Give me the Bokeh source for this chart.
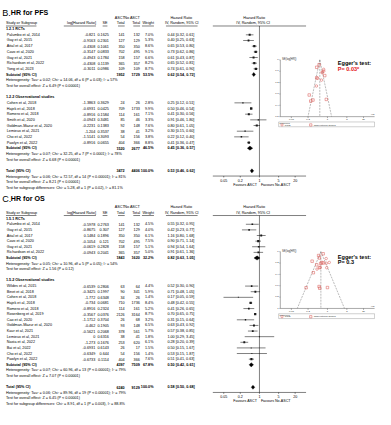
import math
from bokeh.plotting import figure
from bokeh.models import Range1d, LogScale, ColumnDataSource
from bokeh.embed import file_html
from bokeh.resources import INLINE
from bokeh.core.properties import value

# ---------------- Panel B: PFS ----------------
pfs_rct_study = ["Palumbo et al, 2014", "Gay et al, 2015", "Attal et al, 2017", "Cavo et al, 2020",
                 "Gay et al, 2021", "Richardson et al, 2022", "Yong et al, 2023"]
pfs_rct_loghr = [-0.821, -0.9163, -0.4308, -0.3147, -0.4943, -0.4308, -0.3011]
pfs_rct_se = [0.1625, 0.2301, 0.1061, 0.0833, 0.1784, 0.1139, 0.0986]
pfs_rct_n_asct = [141, 127, 350, 702, 158, 365, 109]
pfs_rct_n_no = [132, 129, 350, 495, 157, 357, 109]
pfs_rct_weight = [7.0, 5.3, 8.6, 9.1, 6.6, 8.2, 8.7]

pfs_obs_study = ["Cohen et al, 2018", "Hajek et al, 2018", "Romero et al, 2018", "Smith et al, 2020",
                 "Goldman-Mazur et al, 2020", "Lemieux et al, 2021", "Cho et al, 2022", "Pawlyn et al, 2022"]
pfs_obs_loghr = [-1.3863, -0.6931, -0.8916, -0.0943, -0.2231, -1.204, -1.5141, -0.8916]
pfs_obs_se = [0.3629, 0.0425, 0.1584, 0.3481, 0.1383, 0.3537, 0.3093, 0.0655]
pfs_obs_n_asct = [24, 709, 114, 85, 92, 38, 54, 404]
pfs_obs_n_no = [26, 1733, 161, 46, 148, 41, 156, 366]
pfs_obs_weight = [2.8, 9.9, 7.1, 3.3, 7.6, 3.2, 3.8, 8.8]

pfs_pooled = [[0.62, 0.54, 0.72], [0.45, 0.36, 0.57], [0.53, 0.46, 0.62]]   # RCT, Obs, Total
pfs_pooled_n = [[1952, 1729], [1520, 2677], [3472, 4406]]
pfs_pooled_w = [53.5, 46.5, 100.0]
pfs_stats = [
    "Heterogeneity: Tau² = 0.02; Chi² = 14.06, df = 6 (P = 0.03); I² = 57%",
    "Test for overall effect: Z = 6.49 (P < 0.00001)",
    "Heterogeneity: Tau² = 0.07; Chi² = 32.25, df = 7 (P < 0.0001); I² = 78%",
    "Test for overall effect: Z = 6.68 (P < 0.00001)",
    "Heterogeneity: Tau² = 0.06; Chi² = 72.57, df = 14 (P < 0.00001); I² = 81%",
    "Test for overall effect: Z = 8.21 (P < 0.00001)",
    "Test for subgroup differences: Chi² = 5.28, df = 1 (P = 0.02), I² = 81.1%",
]
pfs_egger = "P= 0.03*"

# ---------------- Panel C: OS ----------------
os_rct_study = ["Palumbo et al, 2014", "Gay et al, 2015", "Attal et al, 2017", "Cavo et al, 2020",
                "Gay et al, 2021", "Richardson et al, 2022"]
os_rct_loghr = [-0.5978, -0.8675, 0.1484, -0.1054, -0.0619, -0.0943]
os_rct_se = [0.2763, 0.307, 0.1896, 0.121, 0.2828, 0.2041]
os_rct_n_asct = [141, 127, 350, 702, 158, 365]
os_rct_n_no = [132, 129, 350, 495, 157, 357]
os_rct_weight = [4.5, 4.0, 6.1, 7.5, 5.1, 5.0]

os_obs_study = ["Wildes et al, 2015", "Binet et al, 2018", "Cohen et al, 2018", "Hajek et al, 2018",
                "Romero et al, 2018", "Rosenberg et al, 2019", "Cao et al, 2020", "Goldman-Mazur et al, 2020",
                "Kaur et al, 2021", "Lemieux et al, 2021", "Nasta et al, 2022", "Bai et al, 2022",
                "Cho et al, 2022", "Pawlyn et al, 2022"]
os_obs_loghr = [-0.6539, -0.3425, -1.772, -0.734, -0.8916, -0.3567, -1.1712, -0.462,
                -0.5621, 0.0, -1.273, -0.6931, -0.6349, -0.6733]
os_obs_se = [0.2806, 0.1997, 0.6348, 0.0681, 0.2324, 0.0376, 0.3704, 0.1905,
             0.2068, 0.6316, 0.1676, 0.6143, 0.644, 0.1114]
os_obs_n_asct = [63, 90, 34, 710, 114, 2126, 26, 93, 378, 38, 253, 26, 54, 404]
os_obs_n_no = [64, 341, 26, 1736, 161, 3164, 68, 148, 561, 41, 620, 17, 156, 366]
os_obs_weight = [4.4, 5.9, 1.4, 8.4, 5.2, 8.7, 3.2, 6.5, 5.7, 1.8, 6.1, 1.5, 1.4, 7.6]

os_pooled = [[0.82, 0.63, 1.05], [0.50, 0.42, 0.61], [0.58, 0.50, 0.68]]
os_pooled_n = [[1843, 1620], [4397, 7509], [6240, 9129]]
os_pooled_w = [32.2, 67.8, 100.0]
os_stats = [
    "Heterogeneity: Tau² = 0.05; Chi² = 10.96, df = 5 (P = 0.05); I² = 54%",
    "Test for overall effect: Z = 1.56 (P = 0.12)",
    "Heterogeneity: Tau² = 0.07; Chi² = 60.96, df = 13 (P < 0.00001); I² = 79%",
    "Test for overall effect: Z = 7.07 (P < 0.00001)",
    "Heterogeneity: Tau² = 0.06; Chi² = 89.96, df = 19 (P < 0.00001); I² = 79%",
    "Test for overall effect: Z = 6.45 (P < 0.00001)",
    "Test for subgroup differences: Chi² = 8.91, df = 1 (P = 0.003), I² = 88.8%",
]
os_egger = "P= 0.3"

forest_ticks = [0.05, 0.2, 1, 5, 20]
pfs_se_ticks = [0, 0.1, 0.2, 0.3, 0.4, 0.5]
os_se_ticks = [0, 0.2, 0.4, 0.6, 0.8, 1.0]

# ---------------- figure ----------------
W, H = 375, 409
RW, RH = 391.0, 425.0
K = W / RW
FONT = value("Liberation Sans")

p = figure(width=W, height=H, x_range=Range1d(0, RW), y_range=Range1d(RH, 0),
           output_backend="svg", toolbar_location=None, title=None,
           x_axis_location=None, y_axis_location=None, min_border=0)
p.outline_line_color = None
p.background_fill_color = "white"
p.border_fill_color = "white"
p.xgrid.visible = False
p.ygrid.visible = False

FX0, FS = 270.0, 20.0 / math.log(5)
GX0, GS = 340.9, 12.56
xr = {"hr": Range1d(start=math.exp(-FX0 / FS), end=math.exp((RW - FX0) / FS)),
      "fun": Range1d(start=math.exp(-GX0 / GS), end=math.exp((RW - GX0) / GS))}
xs = {"hr": LogScale(), "fun": LogScale()}
yr = {}

texts, segs = {}, {}


def txt(x, y, t, align="left", size=3.9, bold=False, color="black", base="middle",
        xn="default", yn="default"):
    d = texts.setdefault((align, size, bold, color, base, xn, yn), dict(x=[], y=[], t=[]))
    d["x"].append(x); d["y"].append(y); d["t"].append(t)


def seg(x0, y0, x1, y1, color="black", width=0.5, dash="solid", xn="default", yn="default"):
    d = segs.setdefault((color, width, dash, xn, yn), dict(x0=[], y0=[], x1=[], y1=[]))
    d["x0"].append(x0); d["y0"].append(y0); d["x1"].append(x1); d["y1"].append(y1)


sq = dict(x=[], y=[], s=[])
dia = dict(xs=[], ys=[])
fun_pts = {}


def draw_panel(P):
    base, s = P["base"], P["step"]
    row = lambda i: base + i * s
    txt(1.7, P["title_y"], P["letter"], size=9.5, base="alphabetic")
    txt(10.8, P["title_y"], P["title"], size=7.4, bold=True, base="alphabetic")
    y0, y1 = row(0), row(1)
    txt(129.5, y0, "ASCT", "right"); txt(145.5, y0, "No ASCT", "right")
    txt(188.5, y0, "Hazard Ratio", "center"); txt(264.5, y0, "Hazard Ratio", "center")
    for x, t, a in [(5.7, "Study or Subgroup", "left"), (99.5, "log[Hazard Ratio]", "right"),
                    (111.5, "SE", "right"), (129.5, "Total", "right"), (145.5, "Total", "right"),
                    (160, "Weight", "right"), (189, "IV, Random, 95% CI", "center"),
                    (263.5, "IV, Random, 95% CI", "center")]:
        txt(x, y1, t, a)
    uy = y1 + 2.6
    for a, b in [(5.7, 37.5), (66, 99.5), (106.5, 111.5), (122.5, 129.5), (138.5, 145.5),
                 (147.5, 160), (172.5, 205.5)]:
        seg(a, uy, b, uy)
    seg(0.02, uy, 50, uy, xn="hr")
    i = 2
    for k, (sec, g) in enumerate(zip(P["sec"], P["groups"])):
        txt(5.7, row(i), sec, bold=True); i += 1
        for j in range(len(g[0])):
            y = row(i)
            name, l, se, na, nn, w = (g[0][j], g[1][j], g[2][j], g[3][j], g[4][j], g[5][j])
            hr, lo, hi = math.exp(l), math.exp(l - 1.96 * se), math.exp(l + 1.96 * se)
            txt(6.5, y, name)
            txt(98.8, y, f"{l:g}", "right")
            txt(113, y, f"{se:g}", "right")
            txt(129.5, y, str(na), "right")
            txt(145.3, y, str(nn), "right")
            txt(159.5, y, f"{w:.1f}%", "right")
            txt(174, y, f"{hr:.2f} [{lo:.2f}, {hi:.2f}]")
            seg(lo, y, hi, y, xn="hr")
            sq["x"].append(hr); sq["y"].append(y); sq["s"].append(0.8 * math.sqrt(w) * K)
            fp = fun_pts.setdefault((P["fy"], k), dict(x=[], y=[]))
            fp["x"].append(hr); fp["y"].append(se)
            i += 1
        y = row(i)
        pool, nn, w = P["pooled"][k], P["pooled_n"][k], P["pooled_w"][k]
        txt(5.7, y, "Subtotal (95% CI)", bold=True)
        txt(129.5, y, str(nn[0]), "right", bold=True)
        txt(145.3, y, str(nn[1]), "right", bold=True)
        txt(159.5, y, f"{w:.1f}%", "right", bold=True)
        txt(174, y, f"{pool[0]:.2f} [{pool[1]:.2f}, {pool[2]:.2f}]", bold=True)
        dia["xs"].append([pool[1], pool[0], pool[2], pool[0]])
        dia["ys"].append([y, y - 2.2, y, y + 2.2])
        txt(5.7, row(i + 1), P["stats"][2 * k])
        txt(5.7, row(i + 2), P["stats"][2 * k + 1])
        i += 4
    y = row(i)
    pool, nn, w = P["pooled"][2], P["pooled_n"][2], P["pooled_w"][2]
    txt(5.7, y, "Total (95% CI)", bold=True)
    txt(129.5, y, str(nn[0]), "right", bold=True)
    txt(145.3, y, str(nn[1]), "right", bold=True)
    txt(159.5, y, f"{w:.1f}%", "right", bold=True)
    txt(174, y, f"{pool[0]:.2f} [{pool[1]:.2f}, {pool[2]:.2f}]", bold=True)
    dia["xs"].append([pool[1], pool[0], pool[2], pool[0]])
    dia["ys"].append([y, y - 2.2, y, y + 2.2])
    txt(5.7, row(i + 1), P["stats"][4])
    txt(5.7, row(i + 2), P["stats"][5])
    txt(5.7, row(i + 3), P["stats"][6])
    ay = y + 5.4
    seg(1, uy, 1, ay, xn="hr")
    seg(0.02, ay, 50, ay, xn="hr")
    for t in forest_ticks:
        seg(t, ay, t, ay + 1.4, xn="hr")
        txt(t, ay + 4.3, f"{t:g}", "center", size=3.8, xn="hr")
    txt(267.5, ay + 9.3, "Favours ASCT", "right", size=3.8)
    txt(271.5, ay + 9.3, "Favours No-ASCT", "left", size=3.8)

    # ---- funnel plot ----
    top, sm, fy = P["fun_top"], P["se_max"], P["fy"]
    scale = 59.0 / sm
    yr[fy] = Range1d(start=(RH - top) / scale, end=-top / scale)
    seg(0.02, 0, 0.02, sm, color="#555555", width=0.5, xn="fun", yn=fy)
    seg(0.02, sm, 50, sm, color="#555555", width=0.5, xn="fun", yn=fy)
    for t in P["se_ticks"]:
        seg(0.0185, t, 0.02, t, color="#555555", xn="fun", yn=fy)
        txt(0.0175, t, f"{t:g}", "right", size=2.6, color="#333333", xn="fun", yn=fy)
    for t in forest_ticks:
        seg(t, sm, t, sm + 0.025 * sm, color="#555555", xn="fun", yn=fy)
        txt(t, sm + 0.055 * sm, f"{t:g}", "center", size=2.6, color="#333333", xn="fun", yn=fy)
    txt(293.5, top, "SE(log[HR])", size=2.8, color="#333333")
    txt(390, top + 57, "HR", "right", size=2.6, color="#333333")
    pe = P["pooled"][2][0]
    seg(pe, 0, pe, sm, color="#777777", width=0.5, dash="2 1", xn="fun", yn=fy)
    seg(pe, 0, pe * math.exp(-1.96 * sm), sm, color="#777777", width=0.5, dash="2 1", xn="fun", yn=fy)
    seg(pe, 0, pe * math.exp(1.96 * sm), sm, color="#777777", width=0.5, dash="2 1", xn="fun", yn=fy)
    ly0, ly1 = top + 64.5, top + 69.5
    for a, b, c, d in [(290, ly0, 390, ly0), (290, ly1, 390, ly1), (290, ly0, 290, ly1), (390, ly0, 390, ly1)]:
        seg(a, b, c, d, color="#888888", width=0.4)
    txt(291, ly0 + 1.2, "Subgroups", size=2.2, color="#333333")
    P["legend_y"] = (ly0 + ly1) / 2 + 0.6
    txt(296.5, P["legend_y"], "RCTs", size=2.4, color="#333333")
    txt(326.5, P["legend_y"], "Observational studies", size=2.4, color="#333333")
    txt(351.7, P["egger_y"], "Egger's test:", size=5.8, bold=True)
    txt(351.7, P["egger_y"] + 5.8, P["egger"], size=5.8, bold=True, color=P["egger_color"])


panels = [
    dict(base=18.0, step=5.89, letter="B.", title="HR for PFS", title_y=13.3,
         sec=["1.2.1 RCTs", "1.2.2 Observational studies"],
         groups=[(pfs_rct_study, pfs_rct_loghr, pfs_rct_se, pfs_rct_n_asct, pfs_rct_n_no, pfs_rct_weight),
                 (pfs_obs_study, pfs_obs_loghr, pfs_obs_se, pfs_obs_n_asct, pfs_obs_n_no, pfs_obs_weight)],
         pooled=pfs_pooled, pooled_n=pfs_pooled_n, pooled_w=pfs_pooled_w, stats=pfs_stats,
         fun_top=61.7, se_max=0.5, se_ticks=pfs_se_ticks, fy="fb",
         egger=pfs_egger, egger_color="#e3151a", egger_y=65.0),
    dict(base=215.0, step=5.84, letter="C.", title="HR for OS", title_y=206.7,
         sec=["1.5.1 RCTs", "1.5.2 Observational studies"],
         groups=[(os_rct_study, os_rct_loghr, os_rct_se, os_rct_n_asct, os_rct_n_no, os_rct_weight),
                 (os_obs_study, os_obs_loghr, os_obs_se, os_obs_n_asct, os_obs_n_no, os_obs_weight)],
         pooled=os_pooled, pooled_n=os_pooled_n, pooled_w=os_pooled_w, stats=os_stats,
         fun_top=261.0, se_max=1.0, se_ticks=os_se_ticks, fy="fc",
         egger=os_egger, egger_color="black", egger_y=266.3),
]
for P in panels:
    draw_panel(P)

p.extra_x_ranges = xr
p.extra_x_scales = xs
p.extra_y_ranges = yr

for (color, width, dash, xn, yn), d in segs.items():
    p.segment(x0="x0", y0="y0", x1="x1", y1="y1", source=ColumnDataSource(d), line_color=color,
              line_width=width, line_dash=dash, x_range_name=xn, y_range_name=yn)

p.patches(xs="xs", ys="ys", source=ColumnDataSource(dia), fill_color="black", line_color="black",
          line_width=0.3, x_range_name="hr")
p.scatter(x="x", y="y", size="s", source=ColumnDataSource(sq), marker="square",
          fill_color="#1a1a1a", line_color=None, x_range_name="hr")

fun_marker = ["circle", "square"]
fun_color = ["#d9534f", "#d9534f"]
for (fy, k), d in fun_pts.items():
    p.scatter(x="x", y="y", source=ColumnDataSource(d), marker=fun_marker[k], size=2.6 * K,
              fill_color=None, line_color=fun_color[k], line_width=0.5, x_range_name="fun", y_range_name=fy)
for P in panels:
    for k, lx in enumerate([293.5, 323.5]):
        p.scatter(x=[lx], y=[P["legend_y"]], marker=fun_marker[k], size=2.4 * K, fill_color=None,
                  line_color=fun_color[k], line_width=0.5)

for (align, size, bold, color, base, xn, yn), d in texts.items():
    p.text(x="x", y="y", text="t", source=ColumnDataSource(d), text_align=align, text_baseline=base,
           text_font_size=f"{size * K:.2f}px", text_font_style="bold" if bold else "normal",
           text_color=color, text_font=FONT, x_range_name=xn, y_range_name=yn)

open("out.html", "w").write(file_html(p, INLINE))
